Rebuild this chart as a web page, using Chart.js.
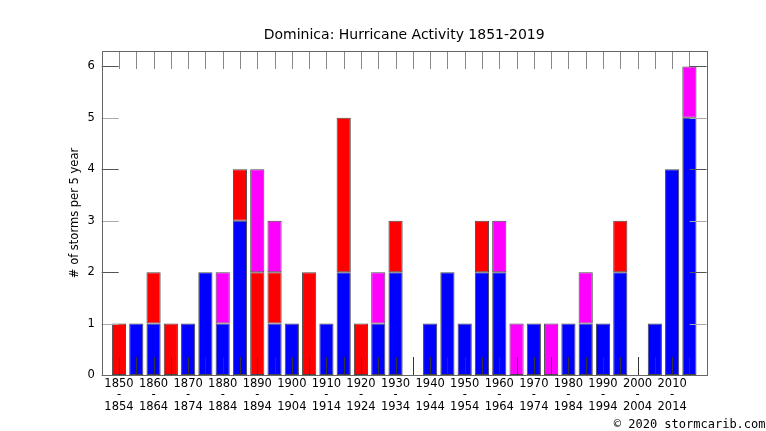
<!DOCTYPE html>
<html>
<head>
<meta charset="utf-8">
<script src="https://cdn.jsdelivr.net/npm/chart.js@4"></script>
<style>
  html, body { margin: 0; padding: 0; background: #fff; }
  #wrap { width: 766px; height: 431px; position: relative; }
</style>
</head>
<body>
<div id="wrap"><canvas id="stormChart"></canvas></div>
<script>
// 5-year bins starting 1850 ... 2015
const binStarts = [1850, 1855, 1860, 1865, 1870, 1875, 1880, 1885, 1890, 1895,
  1900, 1905, 1910, 1915, 1920, 1925, 1930, 1935, 1940, 1945,
  1950, 1955, 1960, 1965, 1970, 1975, 1980, 1985, 1990, 1995,
  2000, 2005, 2010, 2015];
const blueCounts    = [0, 1, 1, 0, 1, 2, 1, 3, 0, 1, 1, 0, 1, 2, 0, 1, 2, 0, 1, 2, 1, 2, 2, 0, 1, 0, 1, 1, 1, 2, 0, 1, 4, 5];
const redCounts     = [1, 0, 1, 1, 0, 0, 0, 1, 2, 1, 0, 2, 0, 3, 1, 0, 1, 0, 0, 0, 0, 1, 0, 0, 0, 0, 0, 0, 0, 1, 0, 0, 0, 0];
const magentaCounts = [0, 0, 0, 0, 0, 0, 1, 0, 2, 1, 0, 0, 0, 0, 0, 1, 0, 0, 0, 0, 0, 0, 1, 1, 0, 1, 0, 1, 0, 0, 0, 0, 0, 1];
const yTicks = [0, 1, 2, 3, 4, 5, 6];

const FONT = 'DejaVu Sans';

function toPoints(arr) {
  return arr.map((v, i) => ({ x: i, y: v === 0 ? null : v }));
}

// plot frame, inward ticks, title and copyright
const frame = {
  id: 'frame',
  afterDatasetsDraw(chart) {
    const { ctx, chartArea: a, scales: { x, y } } = chart;
    ctx.save();
    ctx.lineWidth = 1;
    // x ticks bottom + top
    binStarts.forEach((_, i) => {
      const px = Math.round(x.getPixelForValue(i)) + 0.5;
      ctx.strokeStyle = '#333';
      ctx.beginPath(); ctx.moveTo(px, a.bottom); ctx.lineTo(px, a.bottom - 18); ctx.stroke();
      ctx.strokeStyle = '#888';
      ctx.beginPath(); ctx.moveTo(px, a.top); ctx.lineTo(px, a.top + 18); ctx.stroke();
    });
    // y ticks left + right
    yTicks.forEach(v => {
      const py = Math.round(y.getPixelForValue(v)) + 0.5;
      ctx.strokeStyle = v % 2 === 0 ? '#555' : '#aaa';
      ctx.beginPath(); ctx.moveTo(a.left, py); ctx.lineTo(a.left + 17, py); ctx.stroke();
      ctx.beginPath(); ctx.moveTo(a.right, py); ctx.lineTo(a.right - 17, py); ctx.stroke();
    });
    ctx.strokeStyle = '#666';
    ctx.strokeRect(Math.round(a.left) + 0.5, Math.round(a.top) + 0.5,
      Math.round(a.right - a.left), Math.round(a.bottom - a.top));

    ctx.fillStyle = '#000';
    ctx.font = '14px "' + FONT + '"';
    ctx.textAlign = 'center';
    ctx.textBaseline = 'alphabetic';
    ctx.fillText('Dominica: Hurricane Activity 1851-2019', (a.left + a.right) / 2, 38.5);
    ctx.font = '12px "DejaVu Sans Mono"';
    ctx.textAlign = 'right';
    ctx.fillText('\u00a9 2020 stormcarib.com', 765.5, 428);
    ctx.restore();
  }
};

new Chart(document.getElementById('stormChart'), {
  type: 'bar',
  data: {
    datasets: [
      { label: 'blue', data: toPoints(blueCounts), backgroundColor: '#0000ff' },
      { label: 'red', data: toPoints(redCounts), backgroundColor: '#ff0000' },
      { label: 'magenta', data: toPoints(magentaCounts), backgroundColor: '#ff00ff' }
    ]
  },
  options: {
    responsive: true,
    maintainAspectRatio: false,
    animation: false,
    layout: { padding: { top: 51, right: 59.3, bottom: 0, left: 0 } },
    datasets: {
      bar: {
        borderColor: 'rgba(40,40,40,0.85)',
        borderWidth: 1,
        borderSkipped: false,
        categoryPercentage: 0.82,
        barPercentage: 1
      }
    },
    scales: {
      x: {
        type: 'linear',
        stacked: true,
        offset: false,
        min: -1,
        max: 34,
        grid: { display: false, drawTicks: false, offset: false },
        border: { display: false },
        afterFit(scale) { scale.height = 56; },
        ticks: {
          stepSize: 1,
          autoSkip: false,
          maxRotation: 0,
          padding: 3,
          color: '#000',
          font: { family: FONT, size: 11.5, lineHeight: 1.0 },
          callback(v) {
            if (v < 0 || v >= binStarts.length || v % 2 !== 0) return '';
            const s = binStarts[v];
            return [String(s), '-', String(s + 4)];
          }
        }
      },
      y: {
        stacked: true,
        min: 0,
        max: 6.3,
        grid: { display: false, drawTicks: false },
        border: { display: false },
        afterFit(scale) { scale.width = 101.7; },
        ticks: {
          stepSize: 1,
          includeBounds: false,
          padding: 7,
          color: '#000',
          font: { family: FONT, size: 11.5 }
        },
        title: {
          display: true,
          text: '# of storms per 5 year',
          color: '#000',
          font: { family: FONT, size: 11.5, lineHeight: 1.2 },
          padding: { top: 68, bottom: 0 }
        }
      }
    },
    plugins: {
      legend: { display: false },
      tooltip: { enabled: false }
    }
  },
  plugins: [frame]
});
</script>
</body>
</html>
